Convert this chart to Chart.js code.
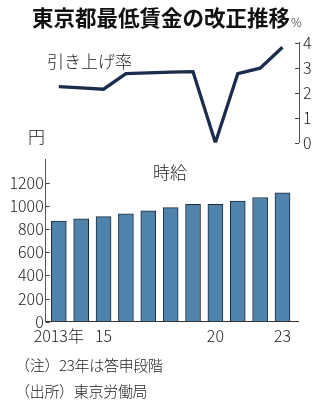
<!DOCTYPE html>
<html><head><meta charset="utf-8">
<script src="https://cdn.jsdelivr.net/npm/chart.js@4/dist/chart.umd.min.js"></script>
<style>
html,body{margin:0;padding:0;background:#fff;}
#wrap{position:relative;width:318px;height:402px;overflow:hidden;font-family:"Noto Sans CJK JP","Noto Sans",sans-serif;color:#222;}
canvas{position:absolute;left:0;top:0;}
.t{position:absolute;white-space:nowrap;line-height:1;}
</style></head><body>
<div id="wrap">
<canvas id="c1" width="318" height="402"></canvas>
<canvas id="c2" width="318" height="402"></canvas>
<div class="t" style="left:32px;top:6px;font-size:21.5px;font-weight:bold;color:#111;">東京都最低賃金の改正推移</div>
<div class="t" style="left:291px;top:16px;font-size:12px;font-weight:300;">%</div>
<div class="t" style="left:47px;top:52px;font-size:17px;font-weight:300;">引き上げ率</div>
<div class="t" style="left:28px;top:127px;font-size:17px;font-weight:300;">円</div>
<div class="t" style="left:153px;top:163px;font-size:17px;font-weight:300;">時給</div>
<div class="t" style="left:15px;top:357px;font-size:15px;font-weight:300;letter-spacing:-0.3px;">（注）23年は答申段階</div>
<div class="t" style="left:15px;top:383px;font-size:15px;font-weight:300;letter-spacing:-0.3px;">（出所）東京労働局</div>
</div>
<script>
const years = [2013,2014,2015,2016,2017,2018,2019,2020,2021,2022,2023];
const wage = [869,888,907,932,958,985,1013,1013,1041,1072,1113];
const rate = [2.24,2.19,2.14,2.76,2.79,2.82,2.84,0,2.76,2.98,3.82];
const xTickYears = [2013,2015,2020,2023];
const xTickLabels = ['2013年','15','20','23'];
const rateTicks = [0,1,2,3,4];

const FONT = '"Noto Sans CJK JP","Noto Sans",sans-serif';
const tickFont = {family: FONT, size: 16, weight: 300};

const innerTicks = {
  id: 'innerTicks',
  afterDraw(chart, args, opts) {
    const s = chart.scales[opts.axis];
    const ctx = chart.ctx;
    ctx.save();
    ctx.strokeStyle = '#444';
    ctx.lineWidth = 1;
    s.ticks.forEach(t => {
      if (opts.skip && opts.skip(t.value)) return;
      const y = Math.round(s.getPixelForValue(t.value)) + 0.5;
      const x0 = opts.side === 'right' ? s.left : s.right;
      const dx = opts.side === 'right' ? -4 : 4;
      ctx.beginPath(); ctx.moveTo(x0, y); ctx.lineTo(x0 + dx, y); ctx.stroke();
    });
    ctx.restore();
  }
};

Chart.defaults.font.family = FONT;
Chart.defaults.color = '#222';

new Chart(document.getElementById('c1'), {
  type: 'line',
  data: {
    datasets: [{
      data: years.map((y,i)=>({x:y, y:rate[i]})),
      borderColor: '#1b2d4f', borderWidth: 3.3, pointRadius: 0, tension: 0, fill: false,
      borderJoinStyle: 'miter'
    }]
  },
  options: {
    responsive: false, animation: false, devicePixelRatio: 1,
    layout: {padding: {left: 46, right: 0, top: 42.7, bottom: 259.3}},
    plugins: {legend: {display: false}, tooltip: {enabled: false},
      innerTicks: {axis: 'y', side: 'right'}},
    scales: {
      x: {type: 'linear', min: 2012.428, max: 2023.738, display: false},
      y: {
        position: 'right', min: 0, max: 4,
        afterFit(s){ s.width = 19; },
        afterBuildTicks(s){ s.ticks = rateTicks.map(v=>({value:v})); },
        grid: {drawOnChartArea: false, drawTicks: false},
        border: {color: '#555', width: 1},
        ticks: {font: tickFont, padding: 4, color: '#222'}
      }
    }
  },
  plugins: [innerTicks]
});

new Chart(document.getElementById('c2'), {
  type: 'bar',
  data: {
    datasets: [{
      data: years.map((y,i)=>({x:y, y:wage[i]})),
      backgroundColor: '#4f83ac', borderColor: '#1d2b3a', borderWidth: 1,
      barThickness: 15
    }]
  },
  options: {
    responsive: false, animation: false, devicePixelRatio: 1,
    layout: {padding: {left: 0, right: 20, top: 159.5, bottom: 50.3}},
    plugins: {legend: {display: false}, tooltip: {enabled: false},
      innerTicks: {axis: 'y', side: 'left', skip: v => v > 1200}},
    scales: {
      x: {
        type: 'linear', min: 2012.414, max: 2023.693, offset: false,
        afterFit(s){ s.height = 30; },
        afterBuildTicks(s){ s.ticks = xTickYears.map(v=>({value:v})); },
        grid: {display: false, drawTicks: false},
        border: {color: '#333', width: 1},
        ticks: {font: tickFont, padding: 5, autoSkip: false, maxRotation: 0,
          callback: (v) => { const i = xTickYears.indexOf(v); return i >= 0 ? xTickLabels[i] : ''; }}
      },
      y: {
        min: 0, max: 1400,
        afterFit(s){ s.width = 45.7; },
        grid: {drawOnChartArea: false, drawTicks: false},
        border: {color: '#555', width: 1},
        ticks: {font: tickFont, padding: 2, stepSize: 200, color: '#222',
          callback: v => v > 1200 ? '' : v}
      }
    }
  },
  plugins: [innerTicks]
});
</script>
</body></html>
